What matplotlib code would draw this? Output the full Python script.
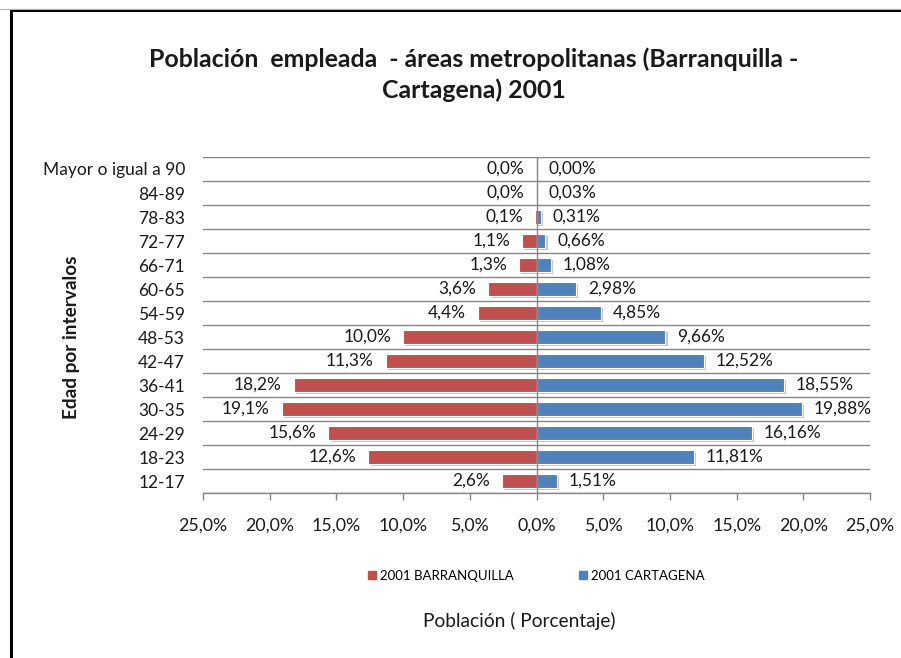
import numpy as np
import matplotlib
matplotlib.use("Agg")
import matplotlib.pyplot as plt
import matplotlib.patheffects as pe
from matplotlib.ticker import FuncFormatter, MultipleLocator
from matplotlib.patches import Rectangle
from matplotlib.lines import Line2D

plt.rcParams['font.family'] = ['Lato', 'DejaVu Sans']

# data (bottom to top)
grupos = ['12-17', '18-23', '24-29', '30-35', '36-41', '42-47', '48-53',
          '54-59', '60-65', '66-71', '72-77', '78-83', '84-89',
          'Mayor o igual a 90']
barranquilla = [2.6, 12.6, 15.6, 19.1, 18.2, 11.3, 10.0, 4.4, 3.6, 1.3, 1.1, 0.1, 0.0, 0.0]
cartagena = [1.51, 11.81, 16.16, 19.88, 18.55, 12.52, 9.66, 4.85, 2.98, 1.08, 0.66, 0.31, 0.03, 0.00]

rojo = '#C0504D'
azul = '#4F81BD'
gris = '#868686'

W, H = 901, 658
fig = plt.figure(figsize=(W / 100, H / 100), dpi=100)

# plot area in pixels
x0, x1, y0, y1 = 203, 870, 157, 493
ax = fig.add_axes([x0 / W, 1 - y1 / H, (x1 - x0) / W, (y1 - y0) / H])

y = np.arange(len(grupos))
sombra = [pe.SimplePatchShadow(offset=(1.6, -1.6), shadow_rgbFace='#808080', alpha=0.45), pe.Normal()]

b1 = ax.barh(y, [-v for v in barranquilla], height=0.58, color=rojo,
             edgecolor='white', linewidth=0.8, zorder=3)
b2 = ax.barh(y, cartagena, height=0.58, color=azul,
             edgecolor='white', linewidth=0.8, zorder=3)
for p in list(b1) + list(b2):
    p.set_path_effects(sombra)

for yi, v in zip(y, barranquilla):
    ax.annotate(f'{v:.1f}%'.replace('.', ','), xy=(-v, yi), xytext=(-8.5, 0),
                textcoords='offset points', ha='right', va='center',
                fontsize=12.5, color='#1a1a1a', zorder=5)
for yi, v in zip(y, cartagena):
    ax.annotate(f'{v:.2f}%'.replace('.', ','), xy=(v, yi), xytext=(8.5, 0),
                textcoords='offset points', ha='left', va='center',
                fontsize=12.5, color='#1a1a1a', zorder=5)

ax.set_xlim(-25, 25)
ax.set_ylim(-0.5, len(grupos) - 0.5)
ax.xaxis.set_major_locator(MultipleLocator(5))
ax.xaxis.set_major_formatter(FuncFormatter(lambda v, p: f'{abs(v):.1f}%'.replace('.', ',')))
ax.set_yticks(y)
ax.set_yticklabels(grupos)
ax.set_yticks(np.arange(-0.5, len(grupos), 1), minor=True)
ax.grid(which='minor', axis='y', color=gris, linewidth=1.0, zorder=0)
ax.tick_params(axis='y', which='both', length=0, pad=13, labelsize=12.5, labelcolor='#1a1a1a')
ax.tick_params(axis='x', length=5, width=1, color=gris, pad=13, labelsize=12.8, labelcolor='#1a1a1a')
ax.axvline(0, color=gris, linewidth=1.0, zorder=4)

for s in ['top', 'right', 'left']:
    ax.spines[s].set_visible(False)
ax.spines['bottom'].set_color(gris)
ax.spines['bottom'].set_linewidth(1.0)

# title and labels
fig.text(474 / W, 1 - 75 / H, 'Población  empleada  - áreas metropolitanas (Barranquilla -\nCartagena) 2001',
         ha='center', va='center', fontsize=17.9, fontweight='bold', linespacing=1.4, color='#1a1a1a')
fig.text(72 / W, 1 - 337 / H, 'Edad por intervalos', rotation=90, ha='center', va='center',
         fontsize=13.7, fontweight='bold', color='#1a1a1a')
fig.text(519 / W, 1 - 621 / H, 'Población ( Porcentaje)', ha='center', va='center',
         fontsize=13.8, color='#1a1a1a')

handles = [Line2D([], [], marker='s', linestyle='none', color=rojo, markersize=6),
           Line2D([], [], marker='s', linestyle='none', color=azul, markersize=6)]
fig.legend(handles, ['2001 BARRANQUILLA', '2001 CARTAGENA'], loc='center',
           bbox_to_anchor=(535 / W, 1 - 576 / H), ncol=2, frameon=False,
           fontsize=9.5, handletextpad=0.1, columnspacing=4.8, handlelength=1.0)

# frame of the chart box
fig.add_artist(Line2D([0, 1], [1 - 9 / H, 1 - 9 / H], color='#b0b0b0', linewidth=0.8))
fig.add_artist(Rectangle((10.5 / W, -0.1), 1.2, 1 - 10.5 / H + 0.1, fill=False,
                         edgecolor='black', linewidth=2.2, transform=fig.transFigure))

fig.savefig('out.png', dpi=100)
